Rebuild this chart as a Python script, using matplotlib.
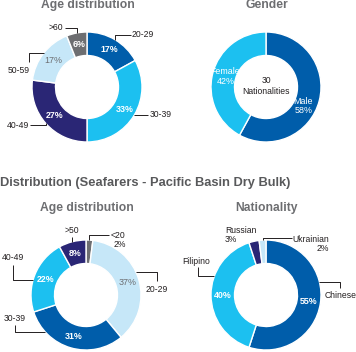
import numpy as np
import matplotlib.pyplot as plt

plt.rcParams['font.family'] = ['Liberation Sans', 'DejaVu Sans']

W, H = 356, 352

# data
office_age_labels = ['20-29', '30-39', '40-49', '50-59', '>60']
office_age_values = [17, 33, 27, 17, 6]
gender_labels = ['Male', 'Female']
gender_values = [58, 42]
sea_age_labels = ['<20', '20-29', '30-39', '40-49', '>50']
sea_age_values = [2, 37, 31, 22, 8]
nat_labels = ['Chinese', 'Filipino', 'Russian', 'Ukrainian']
nat_values = [55, 40, 3, 2]

DARK = '#005DAA'
CYAN = '#1CC0F0'
NAVY = '#2A2675'
LIGHT = '#C6E7F8'
GRAY = '#6D6E71'
INK = '#231F20'
TITLE = '#6D6E71'

fig = plt.figure(figsize=(W / 100, H / 100), dpi=100)
ax = fig.add_axes([0, 0, 1, 1])


def donut(values, colors, center, r=55, w=23.5):
    wedges, _ = ax.pie(values, colors=colors, startangle=-90, counterclock=True,
                       radius=r, center=center,
                       wedgeprops=dict(width=w, edgecolor='white', linewidth=1.0))
    return wedges


def at(wd, frac, rad):
    t = np.deg2rad(wd.theta1 + frac * (wd.theta2 - wd.theta1))
    return wd.center[0] + rad * np.cos(t), wd.center[1] + rad * np.sin(t)


def pct_labels(wedges, values, colors, bold):
    for wd, v, c, b in zip(wedges, values, colors, bold):
        x, y = at(wd, 0.5, wd.r - wd.width / 2)
        ax.text(x, y, f'{v}%', ha='center', va='center', fontsize=6.4, color=c,
                fontweight='bold' if b else 'normal')


def leader(wd, frac, legs, label, tdx, tdy, ha, ma='center'):
    x, y = at(wd, frac, wd.r)
    xs, ys = [x], [y]
    for dx, dy in legs:
        x += dx
        y += dy
        xs.append(x)
        ys.append(y)
    if len(xs) > 1:
        ax.plot(xs, ys, color=INK, lw=0.7, solid_capstyle='butt')
    ax.text(x + tdx, y + tdy, label, ha=ha, va='center', fontsize=6.2,
            color=INK, multialignment=ma, linespacing=1.0)


# top left: age distribution
w1 = donut(office_age_values, [DARK, CYAN, NAVY, LIGHT, GRAY], (87, 87))
pct_labels(w1, office_age_values, ['white', 'white', 'white', GRAY, 'white'],
           [True, True, True, False, True])
leader(w1[0], 0.5, [(0, -5), (16, 0)], office_age_labels[0], 1, 0, 'left')
leader(w1[1], 0.5, [(14, 0)], office_age_labels[1], 1, 0, 'left')
leader(w1[2], 0.5, [(0, 2), (-16, 0)], office_age_labels[2], -1, 0, 'right')
leader(w1[3], 0.5, [(-15, 0), (0, 9)], office_age_labels[3], 1, 8, 'right')
leader(w1[4], 0.5, [(0, -5), (-12, 0)], office_age_labels[4], -1, 0, 'right')

# top right: gender
w2 = donut(gender_values, [DARK, CYAN], (266, 87))
for wd, lab, v, f in zip(w2, gender_labels, gender_values, [0.56, 0.5]):
    x, y = at(wd, f, 42)
    ax.text(x, y, f'{lab}\n{v}%', ha='center', va='center', fontsize=6.4,
            color='white', linespacing=1.1)
ax.text(266, 86, '30\nNationalities', ha='center', va='center', fontsize=6.2,
        color=INK, linespacing=1.2)

# bottom left: seafarers age distribution
w3 = donut(sea_age_values, [GRAY, LIGHT, DARK, CYAN, NAVY], (86, 295))
pct_labels(w3[1:], sea_age_values[1:], [GRAY, 'white', 'white', 'white'],
           [False, True, True, True])
leader(w3[0], 0.4, [(0, -5), (20, 0)], f'{sea_age_labels[0]}\n{sea_age_values[0]}%',
       2, 5, 'left', ma='right')
leader(w3[1], 0.44, [(21, 0), (0, 9)], sea_age_labels[1], 0, 8, 'center')
leader(w3[2], 0.785, [(-30, 0), (0, -7)], sea_age_labels[2], 0, -6, 'center')
leader(w3[3], 0.43, [(-20, 0), (0, -15)], sea_age_labels[3], 0, -7, 'center')
leader(w3[4], 0.5, [(0, -5)], sea_age_labels[4], 0, -6, 'center')

# bottom right: nationality
w4 = donut(nat_values, [DARK, CYAN, NAVY, LIGHT], (266, 295))
pct_labels(w4[:2], nat_values[:2], ['white', 'white'], [True, True])
leader(w4[0], 0.384, [(21, 0), (0, 6)], nat_labels[0], 0, 8, 'center')
leader(w4[1], 0.64, [(-16, 0), (0, -9)], nat_labels[1], -2, -6, 'center')
leader(w4[2], 0.5, [], f'{nat_labels[2]}\n{nat_values[2]}%', -29, -6, 'left', ma='left')
leader(w4[3], 0.5, [(0, -2), (29, 0)], f'{nat_labels[3]}\n{nat_values[3]}%',
       1, 6, 'left', ma='right')

# titles
ax.text(88, 5, 'Age distribution', ha='center', va='center', fontsize=8.7,
        fontweight='bold', color=TITLE)
ax.text(267, 5, 'Gender', ha='center', va='center', fontsize=8.7,
        fontweight='bold', color=TITLE)
ax.text(0, 183, 'Distribution (Seafarers - Pacific Basin Dry Bulk)', ha='left',
        va='center', fontsize=9.3, fontweight='bold', color='#58595B')
ax.text(87, 208, 'Age distribution', ha='center', va='center', fontsize=8.7,
        fontweight='bold', color=TITLE)
ax.text(266, 208, 'Nationality', ha='center', va='center', fontsize=8.7,
        fontweight='bold', color=TITLE)

ax.set_xlim(0, W)
ax.set_ylim(H, 0)
ax.set_aspect('equal')
ax.set_axis_off()

fig.savefig('out.png', dpi=100)
